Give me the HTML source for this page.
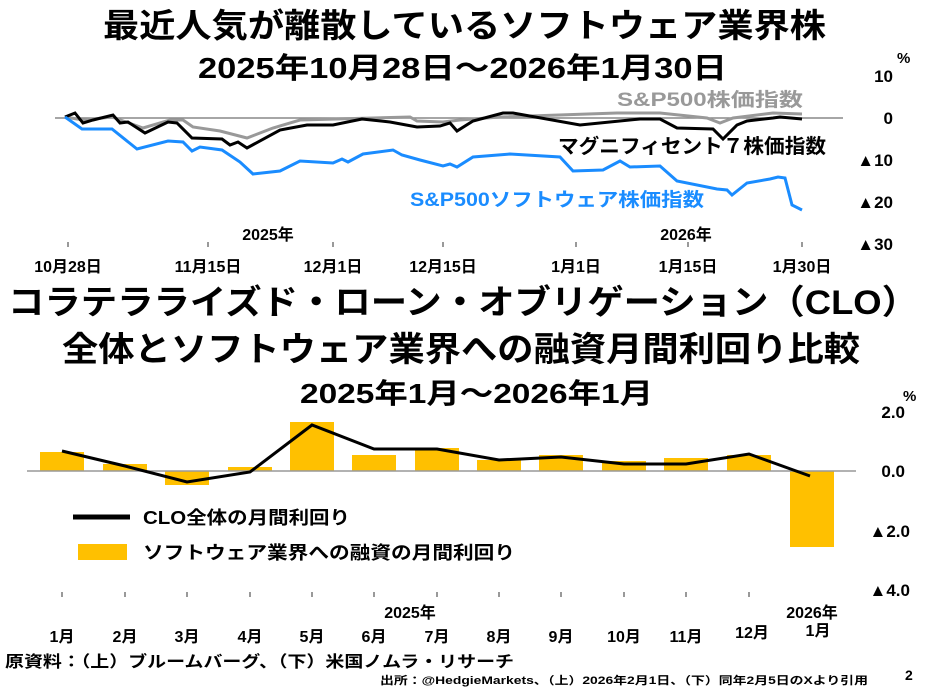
<!DOCTYPE html>
<html><head><meta charset="utf-8"><style>
body{margin:0;background:#fff;}
svg text{font-family:"Liberation Sans","Noto Sans CJK JP",sans-serif;font-weight:bold;}
</style></head><body>
<svg width="927" height="687" viewBox="0 0 927 687" xmlns="http://www.w3.org/2000/svg">
<rect width="927" height="687" fill="#fff"/>
<text x="103" y="37" font-size="33" textLength="723" lengthAdjust="spacingAndGlyphs">最近人気が離散しているソフトウェア業界株</text>
<text x="198" y="78" font-size="29" textLength="529" lengthAdjust="spacingAndGlyphs">2025年10月28日～2026年1月30日</text>
<text x="897" y="63" font-size="15">%</text>
<g font-size="17" text-anchor="end">
<text x="893" y="82">10</text><text x="893" y="124">0</text>
<text x="893" y="166">▲10</text><text x="893" y="208">▲20</text><text x="893" y="250">▲30</text>
</g>
<line x1="55" y1="118" x2="843" y2="118" stroke="#888" stroke-width="1.5"/>
<g stroke="#999" stroke-width="2">
<line x1="68" y1="242" x2="68" y2="247"/><line x1="208" y1="242" x2="208" y2="247"/><line x1="333" y1="242" x2="333" y2="247"/><line x1="443" y1="242" x2="443" y2="247"/><line x1="576" y1="242" x2="576" y2="247"/><line x1="688" y1="242" x2="688" y2="247"/><line x1="802" y1="242" x2="802" y2="247"/>
</g>
<g font-size="16" text-anchor="middle">
<text x="68" y="272">10月28日</text><text x="208" y="272">11月15日</text><text x="333" y="272">12月1日</text><text x="443" y="272">12月15日</text><text x="576" y="272">1月1日</text><text x="688" y="272">1月15日</text><text x="802" y="272">1月30日</text>
<text x="268" y="240">2025年</text><text x="686" y="240">2026年</text>
</g>
<polyline fill="none" stroke="#999" stroke-width="3" points="65,117 83,120 112,117 143,128 170,120 183,120 193,127 220,131 247,138 273,128 300,120 373,118 410,117 417,121 443,122 460,120 500,117 617,113 660,113 707,118 720,123 733,118 773,113 802,114"/>
<polyline fill="none" stroke="#000" stroke-width="3" points="65,117 75,113 83,123 93,120 113,115 120,123 128,122 145,133 168,122 177,123 192,138 222,139 230,145 238,142 247,148 280,130 307,125 333,125 362,119 390,122 417,127 440,126 450,123 457,131 473,121 503,113 513,113 580,125 640,119 660,119 677,128 713,129 723,139 737,125 747,121 773,118 780,117 802,119"/>
<polyline fill="none" stroke="#1a8cff" stroke-width="3" points="65,117 82,129 112,129 137,149 168,141 183,142 192,151 200,147 222,150 240,162 253,174 280,171 300,161 333,163 342,159 348,162 363,154 393,150 402,155 420,160 443,166 450,164 457,167 473,157 510,154 560,157 573,171 603,170 620,161 630,167 660,166 677,181 717,189 727,190 732,195 747,183 770,179 778,177 785,178 792,205 802,210"/>
<text x="617" y="106" font-size="19" fill="#999" textLength="186" lengthAdjust="spacingAndGlyphs">S&amp;P500株価指数</text>
<text x="558" y="153" font-size="20" textLength="268" lengthAdjust="spacingAndGlyphs">マグニフィセント７株価指数</text>
<text x="410" y="206" font-size="19" fill="#1a8cff" textLength="294" lengthAdjust="spacingAndGlyphs">S&amp;P500ソフトウェア株価指数</text>
<text x="8" y="314" font-size="34" textLength="910" lengthAdjust="spacingAndGlyphs">コラテラライズド・ローン・オブリゲーション（CLO）</text>
<text x="62" y="361" font-size="34" textLength="798" lengthAdjust="spacingAndGlyphs">全体とソフトウェア業界への融資月間利回り比較</text>
<text x="300" y="403" font-size="28" textLength="353" lengthAdjust="spacingAndGlyphs">2025年1月～2026年1月</text>
<text x="903" y="401" font-size="15">%</text>
<g font-size="17" text-anchor="end">
<text x="905" y="418">2.0</text><text x="905" y="477">0.0</text><text x="910" y="537">▲2.0</text><text x="910" y="596">▲4.0</text>
</g>
<g fill="#ffc000">
<rect x="40" y="452" width="44" height="19"/><rect x="103" y="464" width="44" height="7"/><rect x="165" y="471" width="44" height="14"/><rect x="228" y="467" width="44" height="4"/><rect x="290" y="422" width="44" height="49"/><rect x="352" y="455" width="44" height="16"/><rect x="415" y="448" width="44" height="23"/><rect x="477" y="460" width="44" height="11"/><rect x="539" y="455" width="44" height="16"/><rect x="602" y="461" width="44" height="10"/><rect x="664" y="458" width="44" height="13"/><rect x="727" y="455" width="44" height="16"/><rect x="790" y="471" width="44" height="76"/>
</g>
<line x1="27" y1="471" x2="856" y2="471" stroke="#999" stroke-width="1.5"/>
<polyline fill="none" stroke="#000" stroke-width="3" points="62,451 125,466 187,482 250,472 312,425 374,449 437,449 499,460 561,457 624,464 686,464 749,454 810,476"/>
<line x1="73" y1="517" x2="130" y2="517" stroke="#000" stroke-width="5"/>
<text x="143" y="524" font-size="18" textLength="207" lengthAdjust="spacingAndGlyphs">CLO全体の月間利回り</text>
<rect x="78" y="544" width="49" height="16" fill="#ffc000"/>
<text x="143" y="559" font-size="18" textLength="372" lengthAdjust="spacingAndGlyphs">ソフトウェア業界への融資の月間利回り</text>
<g stroke="#999" stroke-width="2">
<line x1="62" y1="592" x2="62" y2="597"/><line x1="125" y1="592" x2="125" y2="597"/><line x1="187" y1="592" x2="187" y2="597"/><line x1="250" y1="592" x2="250" y2="597"/><line x1="312" y1="592" x2="312" y2="597"/><line x1="374" y1="592" x2="374" y2="597"/><line x1="437" y1="592" x2="437" y2="597"/><line x1="499" y1="592" x2="499" y2="597"/><line x1="561" y1="592" x2="561" y2="597"/><line x1="624" y1="592" x2="624" y2="597"/><line x1="686" y1="592" x2="686" y2="597"/><line x1="749" y1="592" x2="749" y2="597"/>
</g>
<g font-size="16" text-anchor="middle">
<text x="410" y="618">2025年</text><text x="812" y="618">2026年</text>
<text x="62" y="642">1月</text><text x="125" y="642">2月</text><text x="187" y="642">3月</text><text x="250" y="642">4月</text><text x="312" y="642">5月</text><text x="374" y="642">6月</text><text x="437" y="642">7月</text><text x="499" y="642">8月</text><text x="561" y="642">9月</text><text x="624" y="642">10月</text><text x="686" y="642">11月</text><text x="752" y="638">12月</text><text x="818" y="636">1月</text>
</g>
<text x="5" y="667" font-size="16" textLength="509" lengthAdjust="spacingAndGlyphs">原資料：（上）ブルームバーグ、（下）米国ノムラ・リサーチ</text>
<text x="380" y="684" font-size="11" textLength="488" lengthAdjust="spacingAndGlyphs">出所：@HedgieMarkets、（上）2026年2月1日、（下）同年2月5日のXより引用</text>
<text x="905" y="680" font-size="14">2</text>
</svg>
</body></html>
